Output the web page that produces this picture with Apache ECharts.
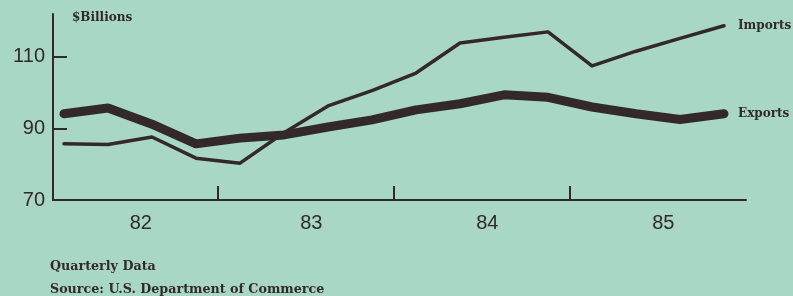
<!DOCTYPE html>
<html>
<head>
<meta charset="utf-8">
<script src="https://cdn.jsdelivr.net/npm/echarts@6/dist/echarts.min.js"></script>
<style>
  html, body { margin: 0; padding: 0; background: #a8d7c3; }
  #myChart { width: 793px; height: 296px; }
</style>
</head>
<body>
<div id="myChart"></div>
<script>
// quarterly data, 1982 Q1 .. 1985 Q4, $ billions
const years = [1982, 1983, 1984, 1985];
const yearLabels = ["82", "83", "84", "85"];
const imports = [85.7, 85.5, 87.6, 81.7, 80.3, 88.8, 96.3, 100.6, 105.5, 113.9, 115.5, 117.0, 107.5, 111.6, 115.2, 118.7];
const exports = [94.1, 95.7, 91.2, 85.7, 87.3, 88.2, 90.4, 92.4, 95.2, 96.9, 99.4, 98.7, 96.0, 94.1, 92.5, 94.1];
const yLabels = [70, 90, 110];
const yTicks = [90, 110];

const xMin = 1982.0625;
const ink = "#33292a";
const serif = "DejaVu Serif";

// quarter centres on a year scale
const quarterX = [];
years.forEach((y) => {
  for (let q = 1; q <= 4; q++) quarterX.push(y + (q - 0.5) / 4);
});
const toPairs = (vals) => vals.map((v, i) => [quarterX[i], v]);

var chartDom = document.getElementById("myChart");
var myChart = echarts.init(chartDom);

const endLabel = {
  show: true,
  formatter: "{a}",
  distance: 14,
  fontFamily: serif,
  fontWeight: "bold",
  fontSize: 12,
  color: ink,
};

const option = {
  backgroundColor: "#a8d7c3",
  animation: false,
  grid: { left: 53, right: 47, top: 14, bottom: 96 },
  title: [
    {
      text: "$Billions",
      left: 72,
      top: 12,
      padding: 0,
      textStyle: { fontFamily: serif, fontWeight: "bold", fontSize: 12, color: ink },
    },
    {
      text: "Quarterly Data",
      left: 50,
      top: 260,
      padding: 0,
      textStyle: { fontFamily: serif, fontWeight: "bold", fontSize: 12.7, color: ink },
    },
    {
      text: "Source: U.S. Department of Commerce",
      left: 50,
      top: 283,
      padding: 0,
      textStyle: { fontFamily: serif, fontWeight: "bold", fontSize: 12.7, color: ink },
    },
  ],
  xAxis: {
    type: "value",
    min: xMin,
    max: 1986,
    splitLine: { show: false },
    axisLine: { lineStyle: { color: ink, width: 2 } },
    axisTick: {
      inside: true,
      length: 14,
      customValues: [1983, 1984, 1985],
      lineStyle: { color: ink, width: 2 },
    },
    axisLabel: {
      customValues: years.map((y) => (Math.max(y, xMin) + y + 1) / 2 + 0.03),
      formatter: (v) => yearLabels[years.indexOf(Math.floor(v))],
      margin: 13,
      fontFamily: "Liberation Sans",
      fontSize: 20,
      color: ink,
    },
  },
  yAxis: {
    type: "value",
    min: 70,
    max: 122,
    splitLine: { show: false },
    axisLine: { show: true, lineStyle: { color: ink, width: 2 } },
    axisTick: {
      show: true,
      inside: true,
      length: 14,
      customValues: yTicks,
      lineStyle: { color: ink, width: 2 },
    },
    axisLabel: {
      customValues: yLabels,
      margin: 8,
      fontFamily: "Liberation Sans",
      fontSize: 20,
      color: ink,
    },
  },
  series: [
    {
      name: "Imports",
      type: "line",
      data: toPairs(imports),
      symbol: "none",
      lineStyle: { color: ink, width: 3.5, cap: "round", join: "round" },
      endLabel: endLabel,
    },
    {
      name: "Exports",
      type: "line",
      data: toPairs(exports),
      symbol: "none",
      lineStyle: { color: ink, width: 9, cap: "round", join: "round" },
      endLabel: endLabel,
    },
  ],
};

option && myChart.setOption(option);
</script>
</body>
</html>
